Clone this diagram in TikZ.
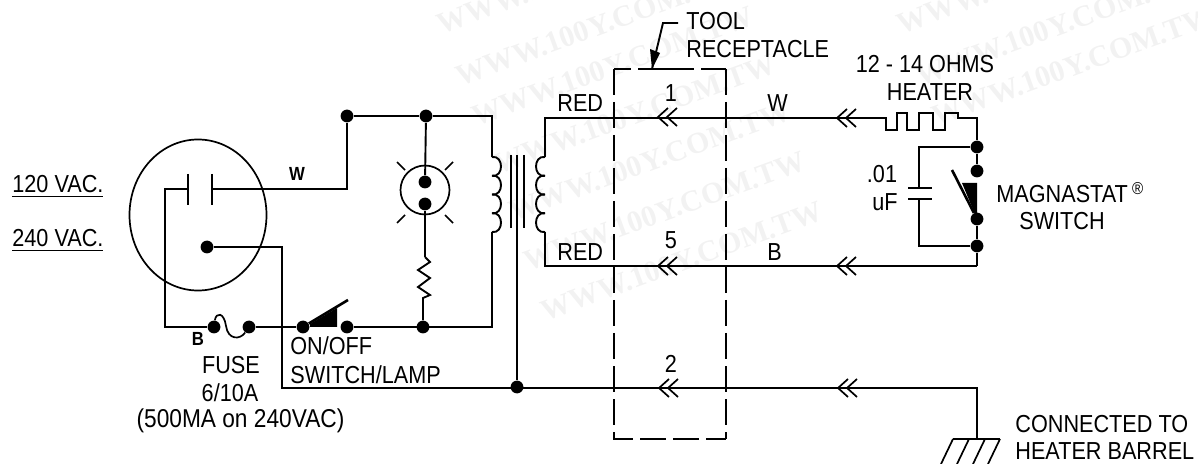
\documentclass[tikz,border=0pt]{standalone}
\usepackage{fontspec}
\setmainfont[FakeStretch=0.88]{Liberation Sans}
\newfontfamily\stampfont{Liberation Serif}
\tikzset{
  wire/.style={draw,line width=0.95pt,line join=miter},
  thinwire/.style={draw,line width=0.85pt},
  solder/.style={circle,fill=black,inner sep=0pt,minimum size=6.4pt},
  lbl/.style={inner sep=0pt,anchor=base,font=\fontsize{12.3}{13}\selectfont},
  lblleft/.style={lbl,anchor=base west},
  tinylbl/.style={inner sep=0pt,anchor=base,font=\fontsize{9.5}{10}\selectfont\bfseries},
  stamp/.style={inner sep=0pt,rotate=20,text=black!5,font=\fontsize{15}{16}\selectfont\stampfont\bfseries},
  plugdash/.style={draw,line width=0.85pt,dash pattern=on 13pt off 3.5pt},
  plugtop/.style={draw,line width=0.85pt,dash pattern=on 8.5pt off 3.5pt on 28pt off 3.5pt on 14pt off 0pt}
}
\begin{document}
\begin{tikzpicture}[x=0.5pt,y=-0.5pt]
        \useasboundingbox (0,0) rectangle (1198,464);

        % faint stamp behind the circuit
        \foreach \sx/\sy in {438/25,457/77,473/117,495/165,510/212,525/262,542/312,898/25,917/77,933/117}
          \node[stamp,anchor=west] (stamp\sx\sy) at (\sx,\sy) {WWW.100Y.COM.TW};

        \begin{scope}[every node/.style={solder}]
          \node (pin)     at (207,247) {};
          \node (fusel)   at (214,327) {};
          \node (fuser)   at (249,327) {};
          \node (swl)     at (303,327) {};
          \node (swr)     at (347,327) {};
          \node (top)     at (347,116) {};
          \node (lamptop) at (426,116) {};
          \node (lampa)   at (425,182) {};
          \node (lampb)   at (425,204) {};
          \node (resbot)  at (423,327) {};
          \node (earth)   at (517,387) {};
          \node (maga)    at (977,147) {};
          \node (magb)    at (977,171) {};
          \node (magc)    at (977,219) {};
          \node (magd)    at (977,246) {};
        \end{scope}

        \coordinate (plugl)   at (188,189);
        \coordinate (plugr)   at (212,189);
        \coordinate (pinturn) at (282,388);
        \coordinate (pritop)  at (492,157);
        \coordinate (pribot)  at (492,232);
        \coordinate (sectop)  at (545,157);
        \coordinate (secbot)  at (545,232);
        \coordinate (heatin)  at (886,118);
        \coordinate (magturn) at (977,118);
        \coordinate (retturn) at (977,266);
        \coordinate (barrel)  at (977,388);
        \coordinate (gnd)     at (977,439);
        \coordinate (capa)    at (919,188);
        \coordinate (capb)    at (919,199);
        \coordinate (resa)    at (425,257);
        \coordinate (resb)    at (423,298);

        % plug
        \draw[thinwire] (198,215) ellipse [x radius=68.5,y radius=75.5];
        \draw[thinwire] (188,174) -- (188,205);
        \draw[thinwire] (212,174) -- (212,205);
        \draw[wire] (plugl) -| (165,327) -- (fusel);
        \draw[wire] (plugr) -| (top);
        \draw[wire] (pin) -| (pinturn) -- (barrel) -- (gnd);

        % fuse and switch
        \draw[thinwire] (fusel) .. controls (216,312) and (224,312) .. (226,326)
          .. controls (228,340) and (240,340) .. (fuser);
        \draw[wire] (fuser) -- (swl);
        \draw[line width=1.3pt] (swl) -- (348,300);
        \fill (310,324) -- (337,308) -- (337,327) -- (310,327) -- cycle;

        % lamp
        \draw[thinwire] (425,190) circle [radius=24.5];
        \draw[wire] (top) -- (lamptop);
        \draw[wire] (lamptop) -- (lampa);
        \draw[wire] (lampb) -- (resa);
        \draw[thinwire] (397,162) -- (405,170);
        \draw[thinwire] (453,162) -- (445,170);
        \draw[thinwire] (397,223) -- (405,215);
        \draw[thinwire] (453,223) -- (445,215);
        \draw[wire] (resa) -- (430,262) -- (418,270) -- (430,278) -- (418,287)
          -- (430,295) -- (resb) -- (resbot);

        % transformer
        \draw[wire] (lamptop) -| (pritop);
        \draw[wire] (pribot) |- (swr);
        \foreach \i in {0,...,3} {
          \draw[wire] (492,157+18.75*\i) .. controls (504,155+18.75*\i) and (504,177.75+18.75*\i) .. (492,175.75+18.75*\i);
          \draw[wire] (545,157+18.75*\i) .. controls (533,155+18.75*\i) and (533,177.75+18.75*\i) .. (545,175.75+18.75*\i);
        }
        \draw[thinwire] (511,155) -- (511,228);
        \draw[thinwire] (524,155) -- (524,228);
        \draw[wire] (517,155) -- (earth);

        % heater side
        \draw[wire] (sectop) |- (heatin) -- (886,130) -- (897,130) -- (897,113) -- (907,113)
          -- (907,130) -- (919,130) -- (919,113) -- (933,113) -- (933,130) -- (945,130)
          -- (945,113) -- (958,113) -- (958,118) -- (magturn) -- (maga);
        \draw[wire] (secbot) |- (retturn);
        \draw[wire] (maga) -- (magb);
        \draw[wire] (magd) -- (retturn);
        \draw[wire] (magc) -- (magd);
        \draw[wire] (maga) -| (capa);
        \draw[wire] (magd) -| (capb);
        \draw[wire] (908,188) -- (932,188);
        \draw[wire] (908,199) -- (932,199);
        \draw[line width=1.3pt] (952,170) -- (magc);
        \fill (962,183) -- (977,183) -- (977,219) -- cycle;

        % pin contacts
        \foreach \tip in {658/117,837/118,658/266,837/266,659/388,838/388}
          \foreach \tx/\ty in \tip {
            \draw[thinwire] (\tx+10,\ty-9) -- (\tx,\ty) -- (\tx+10,\ty+9);
            \draw[thinwire] (\tx+19,\ty-9) -- (\tx+9,\ty) -- (\tx+19,\ty+9);
          }

        % receptacle
        \draw[plugtop] (614,69) -- (726,69);
        \draw[plugdash] (614,69) |- (726,439);
        \draw[plugdash] (726,69) -- (726,439);
        \coordinate (calla) at (678,23);
        \coordinate (callb) at (663,23);
        \coordinate (callc) at (652,69);
        \draw[wire] (calla) -- (callb) -- (callc);
        \fill (652,69) -- (650,49) -- (660,53) -- cycle;

        % earth
        \draw[thinwire] (953,439) -- (1000,439);
        \foreach \hx in {953,969,985,1000}
          \draw[thinwire] (\hx,439) -- (\hx-12,464);

        \node[lblleft] (vaca) at (12,193) {\underline{120 VAC.}};
        \node[lblleft] (vacb) at (12,247) {\underline{240 VAC.}};
        \node[tinylbl] (wlbl) at (297,181) {W};
        \node[tinylbl] (blbl) at (198,345) {B};
        \node[lbl] (fuse)  at (231,373) {FUSE};
        \node[lbl] (amps)  at (230,401) {6/10A};
        \node[lbl,font=\fontsize{12.9}{13}\selectfont] (note)  at (240.5,427) {(500MA on 240VAC)};
        \node[lblleft] (onoff) at (290,355) {ON/OFF};
        \node[lblleft] (swlamp) at (290,383) {SWITCH/LAMP};
        \node[lblleft] (reda) at (557,112) {RED};
        \node[lblleft] (redb) at (557,261) {RED};
        \node[lbl] (pina) at (671,102) {1};
        \node[lbl] (pinb) at (671,249) {5};
        \node[lbl] (pinc) at (671,372) {2};
        \node[lblleft] (wire) at (767,112) {W};
        \node[lblleft] (bire) at (767,261) {B};
        \node[lblleft] (tool) at (686,30) {TOOL};
        \node[lblleft] (recp) at (686,58) {RECEPTACLE};
        \node[lbl] (ohms) at (925,73) {12 - 14 OHMS};
        \node[lbl] (heat) at (930,101) {HEATER};
        \node[lbl] (capv) at (882,183) {.01};
        \node[lbl] (capu) at (885,211) {uF};
        \node[lblleft] (magn) at (996,203) {MAGNASTAT\,\textsuperscript{®}};
        \node[lbl] (mags) at (1062,230) {SWITCH};
        \node[lblleft] (conn) at (1015,432) {CONNECTED TO};
        \node[lblleft] (barr) at (1015,459) {HEATER BARREL};

      \end{tikzpicture}
\end{document}
